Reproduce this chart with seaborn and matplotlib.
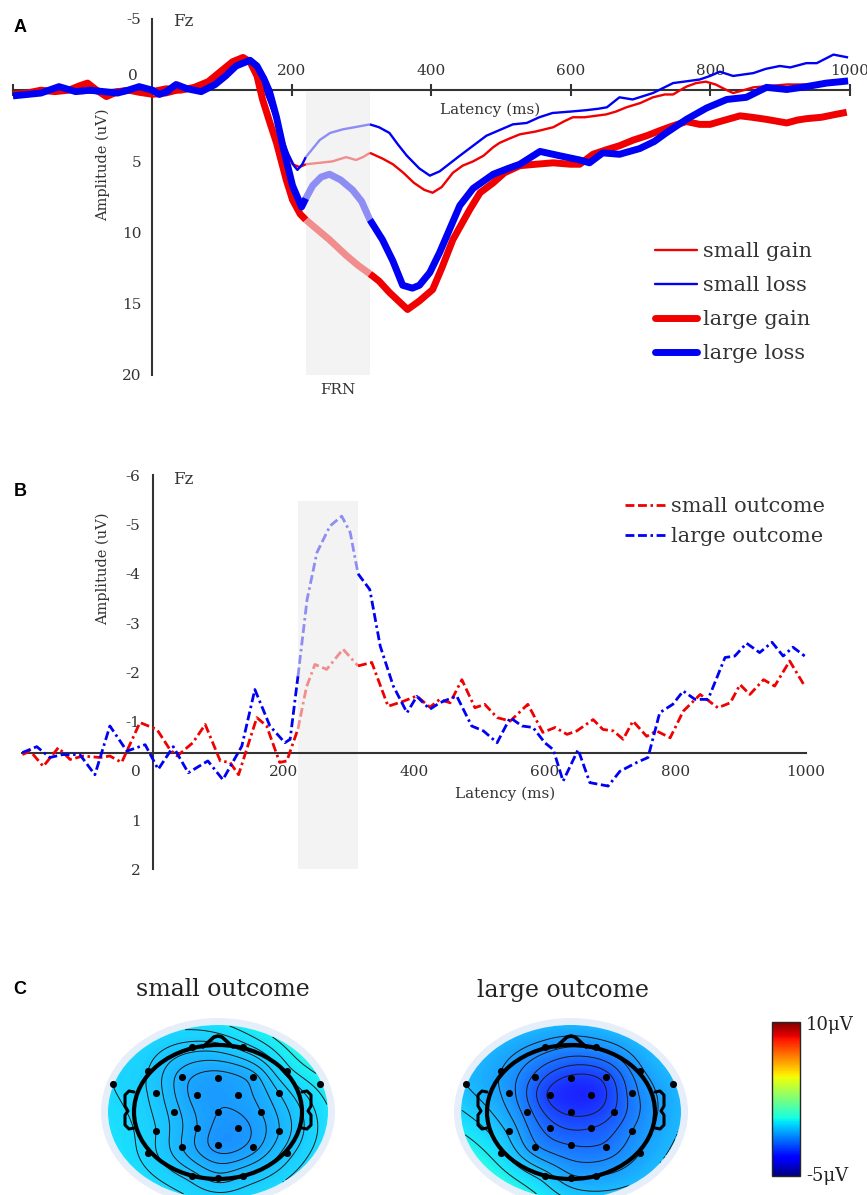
import numpy as np
import matplotlib
matplotlib.use("Agg")
import matplotlib.pyplot as plt
import seaborn as sns
from matplotlib.lines import Line2D
from matplotlib.patches import Ellipse, Rectangle
from matplotlib.colors import Normalize
from matplotlib.cm import ScalarMappable

# ---------------- data: panel A (Fz ERPs, uV; negative up) ----------------
t_small_gain = [-200,-180,-160,-140,-120,-100,-80,-60,-40,-20,0,20,40,60,80,95,110,125,135,145,
                155,163,175,187,201,211,220,240,258,278,292,302,312,330,345,360,375,390,402,415,
                431,445,460,475,489,498,512,527,550,575,590,603,620,651,665,680,700,718,735,747,
                757,766,780,794,808,820,833,848,862,886,910,940,970,996]
v_small_gain = [0.2,0.3,0.1,0.2,0.0,0.2,0.1,0.2,0.1,0.3,0.45,0.35,0.1,0.0,-0.4,-1.0,-1.6,-2.0,-2.1,-1.6,
                -0.7,0.2,1.8,3.7,5.2,5.4,5.2,5.1,5.0,4.7,4.9,4.7,4.4,4.8,5.2,5.8,6.5,7.0,7.2,6.8,
                5.8,5.3,5.0,4.6,4.0,3.7,3.4,3.1,2.9,2.6,2.2,1.9,1.9,1.7,1.5,1.2,0.9,0.5,0.3,0.3,
                0.0,-0.25,-0.5,-0.6,-0.4,-0.1,0.2,0.0,-0.2,-0.3,-0.4,-0.4,-0.5,-0.6]

t_small_loss = [-200,-180,-160,-140,-120,-100,-80,-60,-40,-20,0,20,40,60,80,100,120,135,145,155,
                165,175,185,195,203,208,215,220,240,255,273,290,312,325,340,352,365,383,398,412,
                441,460,479,498,517,537,555,574,600,623,640,652,670,689,718,747,770,785,800,814,
                833,862,880,900,915,938,953,977,998]
v_small_loss = [0.3,0.2,0.1,-0.2,0.0,0.1,0.2,0.0,-0.1,-0.25,0.2,0.3,-0.2,-0.1,-0.6,-1.3,-1.9,-2.0,-1.6,-0.7,
                0.5,1.8,3.2,4.5,5.3,5.6,5.2,4.7,3.5,3.0,2.75,2.6,2.4,2.6,3.0,3.8,4.6,5.5,6.0,5.7,
                4.6,3.9,3.2,2.8,2.4,2.3,1.9,1.6,1.5,1.4,1.3,1.2,0.5,0.65,0.2,-0.5,-0.65,-0.75,-1.0,-1.3,
                -1.0,-1.2,-1.5,-1.7,-1.6,-1.9,-1.9,-2.5,-2.3]

t_large_gain = [-200,-180,-160,-140,-120,-105,-93,-80,-66,-50,-30,-10,0,20,40,60,80,100,115,130,
                140,150,158,168,178,192,201,212,220,237,254,278,295,312,325,340,353,366,383,402,
                415,431,455,470,489,505,527,550,575,600,613,632,650,670,690,709,730,747,766,785,
                800,814,843,860,881,910,925,938,960,980,996]
v_large_gain = [0.3,0.2,0.0,0.1,0.0,-0.3,-0.5,0.0,0.45,0.1,0.0,0.1,0.1,-0.1,0.0,-0.2,-0.6,-1.4,-2.0,-2.3,
                -2.0,-1.0,0.65,2.2,3.7,6.3,7.7,8.7,9.1,9.8,10.5,11.6,12.3,12.9,13.4,14.2,14.8,15.4,14.8,14.0,
                12.5,10.5,8.4,7.2,6.5,5.8,5.3,5.2,5.1,5.2,5.2,4.5,4.2,3.9,3.5,3.2,2.8,2.5,2.2,2.4,
                2.4,2.2,1.8,1.9,2.05,2.3,2.1,2.0,1.9,1.7,1.55]

t_large_loss = [-200,-180,-160,-134,-110,-90,-70,-50,-35,-19,0,10,20,34,50,70,90,105,120,140,
                150,160,168,178,187,195,201,214,220,230,242,254,270,287,300,312,330,345,359,373,
                383,398,412,441,460,489,510,527,556,584,613,627,646,670,699,720,737,766,795,824,
                852,881,910,938,967,998]
v_large_loss = [0.4,0.3,0.2,-0.25,0.1,0.0,0.1,0.2,0.0,-0.25,0.0,0.3,0.1,-0.4,-0.1,0.1,-0.4,-1.0,-1.7,-2.1,
                -1.7,-0.8,0.1,1.9,3.9,5.5,6.7,8.2,7.6,6.7,6.1,5.9,6.3,7.0,7.8,9.1,10.5,12.0,13.7,13.9,
                13.7,12.8,11.4,8.1,6.9,5.9,5.5,5.2,4.3,4.6,4.9,5.1,4.4,4.5,4.1,3.6,3.0,2.05,1.25,0.65,
                0.5,-0.2,-0.05,-0.25,-0.5,-0.65]

# ---------------- data: panel B (difference waves) ----------------
t_small_out = [-200,-188,-168,-145,-127,-107,-81,-66,-48,-20,6,26,37,61,80,103,118,131,159,174,
               194,205,222,235,248,266,291,314,335,360,383,404,424,439,455,473,493,508,527,547,
               574,597,616,634,649,674,689,705,720,735,756,771,792,812,838,865,884,899,914,935,
               952,975,998]
v_small_out = [-0.33,-0.40,-0.09,-0.47,-0.23,-0.30,-0.27,-0.30,-0.17,-0.98,-0.84,-0.43,-0.30,-0.57,-0.94,-0.20,-0.17,0.08,-1.08,-0.91,
               -0.17,-0.20,-0.85,-1.7,-2.16,-2.06,-2.47,-2.13,-2.20,-1.31,-1.41,-1.52,-1.29,-1.45,-1.38,-1.85,-1.28,-1.35,-1.08,-1.01,
               -1.35,-0.78,-0.88,-0.74,-0.81,-1.04,-0.84,-0.81,-0.64,-1.01,-0.70,-0.81,-0.67,-1.21,-1.55,-1.28,-1.38,-1.75,-1.55,-1.85,
               -1.72,-2.23,-1.72]

t_large_out = [-200,-178,-158,-138,-112,-89,-66,-40,-12,8,31,54,84,107,136,156,179,202,210,222,
               236,251,271,289,302,314,332,348,368,389,404,424,439,465,488,506,527,547,565,582,
               600,613,628,651,669,697,715,741,758,776,796,812,830,850,876,891,909,929,948,965,
               980,998]
v_large_out = [-0.37,-0.49,-0.27,-0.33,-0.33,0.08,-0.91,-0.40,-0.53,-0.03,-0.49,0.04,-0.20,0.18,-0.50,-1.65,-0.91,-0.57,-0.64,-1.92,
               -3.48,-4.43,-4.97,-5.17,-4.84,-4.0,-3.68,-2.53,-1.72,-1.18,-1.51,-1.25,-1.38,-1.52,-0.91,-0.81,-0.57,-1.08,-0.91,-0.88,
               -0.57,-0.43,0.21,-0.43,0.24,0.31,0.01,-0.17,-0.27,-1.18,-1.35,-1.62,-1.45,-1.45,-2.30,-2.33,-2.59,-2.40,-2.61,-2.33,
               -2.51,-2.33]

# ---------------- data: panel C (electrode amplitudes, uV) ----------------
topo_small = [0.0,0.3,-0.2,0.1,-0.3,-0.1,-0.7,-0.9,-0.7,-0.3,-0.9,-0.9,-0.4,-0.5,-1.0,-0.8,
              -0.2,-0.8,-1.1,-0.6,-0.6,-1.1,-0.9,-0.1,-0.3,-0.3,-0.5,-0.4]
topo_large = [-0.5,-0.6,-0.9,-1.0,-1.1,-1.2,-1.8,-2.6,-2.3,-1.1,-2.6,-2.9,-1.5,-1.5,-2.6,-2.1,
              -0.6,-1.9,-2.1,-1.3,-1.2,-1.7,-1.6,0.0,-0.9,-0.3,-0.8,-0.9]

A_labels = ["small gain", "small loss", "large gain", "large loss"]
B_labels = ["small outcome", "large outcome"]
A_xticks = [-200, 200, 400, 600, 800, 1000]
A_xticklabels = ["", "200", "400", "600", "800", "1000"]
A_yticks = [-5, 5, 10, 15, 20]
B_yticks = [-6, -5, -4, -3, -2, -1, 0, 1, 2]
small_levels = [-1.0, -0.8, -0.6, -0.4, -0.2, 0.0, 0.2, 0.4]
large_levels = [-2.5, -2.1, -1.7, -1.3, -0.9, -0.5, -0.1, 0.3]

# ---------------- layout (style) ----------------
# electrode layout: pixel offsets from the head centre (x right, y up)
ELEC = np.array([(-105, 28), (102, 28), (-70, 41), (69, 41), (-26, 65), (25, 65),
                 (-36, 35), (0, 34), (35, 35), (-62, 19), (-21, 17), (20, 17), (61, 19),
                 (-44, 0), (0, 0), (43, 0), (-62, -19), (-21, -16), (20, -16), (61, -19),
                 (-36, -35), (0, -33), (35, -35), (-70, -41), (69, -41), (-26, -64), (0, -66), (25, -64)],
                dtype=float)

RED = "#f00000"
BLUE = "#0000f5"
TXT = "#333333"
W, H = 867, 1195

sns.set_style("white")
plt.rcParams["font.family"] = ["DejaVu Serif"]
plt.rcParams["axes.unicode_minus"] = False

fig = plt.figure(figsize=(W / 100, H / 100), dpi=100)


def fx(px):
    return px / W


def fy(py):
    return 1 - py / H


def add_ax(x0, y0, x1, y1):
    return fig.add_axes([fx(x0), fy(y1), (x1 - x0) / W, (y1 - y0) / H])


def draw_segments(ax, t, v, w0, w1, color, **kw):
    t = np.asarray(t, float)
    v = np.asarray(v, float)
    masks = [(t <= w0, 1.0), ((t >= w0) & (t <= w1), 0.42), (t >= w1, 1.0)]
    for m, a in masks:
        sns.lineplot(x=t[m], y=v[m], ax=ax, color=color, alpha=a, estimator=None,
                     sort=False, solid_capstyle="butt", dash_capstyle="butt", zorder=3, **kw)


def style_axis(ax):
    for s in ax.spines.values():
        s.set_color(TXT)
        s.set_linewidth(1.5)
    ax.tick_params(colors=TXT, labelsize=11, width=1.5)


# ================= Panel A =================
axA = add_ax(13, 19, 849.5, 375)
axA.set_xlim(-200, 1000)
axA.set_ylim(20, -5)
axA.add_patch(Rectangle((220, 0.15), 92, 19.85, color="#f3f3f3", zorder=1, lw=0))
draw_segments(axA, t_small_gain, v_small_gain, 220, 312, RED, linewidth=1.7)
draw_segments(axA, t_small_loss, v_small_loss, 220, 312, BLUE, linewidth=1.7)
draw_segments(axA, t_large_gain, v_large_gain, 220, 312, RED, linewidth=5.0)
draw_segments(axA, t_large_loss, v_large_loss, 220, 312, BLUE, linewidth=5.0)
axA.spines["left"].set_position(("data", 0))
axA.spines["top"].set_position(("data", 0))
axA.spines["right"].set_visible(False)
axA.spines["bottom"].set_visible(False)
axA.xaxis.set_ticks_position("top")
axA.set_xticks(A_xticks)
axA.set_xticklabels(A_xticklabels)
axA.set_yticks(A_yticks)
axA.set_yticklabels([str(v) for v in A_yticks])
style_axis(axA)
axA.tick_params(axis="y", direction="inout", length=10, pad=3)
axA.tick_params(axis="x", direction="inout", length=9, pad=4)
axA.set_xlabel("")
axA.set_ylabel("")
axA.grid(False)
axA.patch.set_alpha(0)

handles = [Line2D([], [], color=RED, lw=1.7), Line2D([], [], color=BLUE, lw=1.7),
           Line2D([], [], color=RED, lw=5.0), Line2D([], [], color=BLUE, lw=5.0)]
fig.legend(handles, A_labels, loc="upper left", bbox_to_anchor=(fx(655), fy(242)),
           bbox_transform=fig.transFigure, frameon=False, fontsize=15, borderpad=0,
           borderaxespad=0, handlelength=2.0, handletextpad=0.3, labelspacing=0.72,
           labelcolor=TXT)

# ================= Panel B =================
axB = add_ax(22.4, 475.3, 806, 869.3)
axB.set_xlim(-200, 1000)
axB.set_ylim(2, -6)
axB.add_patch(Rectangle((222, -5.47), 92, 7.47, color="#f3f3f3", zorder=1, lw=0))
dash = (0, (3.2, 1.3, 3.2, 1.3, 0.9, 1.3))
draw_segments(axB, t_small_out, v_small_out, 222, 314, RED, linewidth=2.0, linestyle=dash)
draw_segments(axB, t_large_out, v_large_out, 222, 314, BLUE, linewidth=2.0, linestyle=dash)
axB.spines["left"].set_position(("data", 0))
axB.spines["bottom"].set_position(("data", -0.37))
axB.spines["right"].set_visible(False)
axB.spines["top"].set_visible(False)
axB.set_xticks(A_xticks)
axB.set_xticklabels(A_xticklabels)
axB.set_yticks(B_yticks)
axB.set_yticklabels([str(v) for v in B_yticks])
style_axis(axB)
axB.tick_params(axis="y", direction="inout", length=10, pad=4)
axB.tick_params(axis="x", direction="inout", length=10, pad=4)
axB.set_xlabel("")
axB.set_ylabel("")
axB.grid(False)
axB.patch.set_alpha(0)

handlesB = [Line2D([], [], color=RED, lw=2.0, linestyle=dash),
            Line2D([], [], color=BLUE, lw=2.0, linestyle=dash)]
fig.legend(handlesB, B_labels, loc="upper left", bbox_to_anchor=(fx(625), fy(497)),
           bbox_transform=fig.transFigure, frameon=False, fontsize=15, borderpad=0,
           borderaxespad=0, handlelength=1.95, handletextpad=0.25, labelspacing=0.52,
           labelcolor=TXT)


# ================= Panel C =================
def tps(u, w, vals, gu, gw):
    P = np.column_stack([u, w])
    n = len(P)
    d = np.sqrt(((P[:, None, :] - P[None, :, :]) ** 2).sum(-1))
    with np.errstate(divide="ignore", invalid="ignore"):
        K = np.where(d > 0, d ** 2 * np.log(d), 0.0)
    A = np.zeros((n + 3, n + 3))
    A[:n, :n] = K + 1e-3 * np.eye(n)
    A[:n, n] = 1
    A[:n, n + 1:] = P
    A[n, :n] = 1
    A[n + 1:, :n] = P.T
    b = np.r_[np.asarray(vals, float), 0, 0, 0]
    c = np.linalg.solve(A, b)
    G = np.column_stack([gu.ravel(), gw.ravel()])
    dg = np.sqrt(((G[:, None, :] - P[None, :, :]) ** 2).sum(-1))
    with np.errstate(divide="ignore", invalid="ignore"):
        Kg = np.where(dg > 0, dg ** 2 * np.log(dg), 0.0)
    z = Kg @ c[:n] + c[n] + G @ c[n + 1:]
    return z.reshape(gu.shape)


def topo(cx, vals, levels):
    ax = add_ax(cx - 123, 1015, cx + 127, 1195)
    ax.set_xlim(-123, 127)
    ax.set_ylim(-83, 97)
    ax.axis("off")
    gx, gy = np.meshgrid(np.linspace(-125, 125, 251), np.linspace(-92, 100, 193))
    z = tps(ELEC[:, 0] / 84, ELEC[:, 1] / 67, vals, gx / 84, gy / 67)
    inside = (gx / 110) ** 2 + (gy / 87) ** 2 <= 1.0
    zm = np.ma.masked_where(~inside, z)
    ax.add_patch(Ellipse((0, 0), 234, 188, color="#e6eef9", lw=0, zorder=0))
    ax.add_patch(Ellipse((0, 0), 220, 174, color="white", lw=0, zorder=0.5))
    clip = Ellipse((0, 0), 220, 174, transform=ax.transData, fill=False, lw=0)
    im = ax.imshow(z, extent=(-125, 125, -92, 100), origin="lower", cmap="jet",
                   vmin=-5, vmax=10, interpolation="bilinear", zorder=1, aspect="auto",
                   alpha=0.9)
    im.set_clip_path(clip)
    cs = ax.contour(gx, gy, zm, levels=levels, colors="#1a1a1a", linewidths=0.7,
                    linestyles="solid", zorder=2)
    cs.set_clip_path(clip)
    ax.add_patch(Ellipse((0, 0), 168, 134, fill=False, ec="black", lw=3.0, zorder=4))
    ax.plot([-15, -4, 0, 4, 15], [65, 75, 76, 75, 65], color="black", lw=2.6, zorder=4,
            solid_joinstyle="round")
    for s in (-1, 1):
        ex = [-84, -89, -93, -93, -90, -93, -93, -89, -84]
        ey = [20, 21, 17, 6, 1, -3, -13, -17, -16]
        ax.plot([s * e for e in ex], ey, color="black", lw=2.2, zorder=4, solid_joinstyle="round")
    ax.scatter(ELEC[:, 0], ELEC[:, 1], s=26, color="black", zorder=5, linewidths=0)
    return ax


topo(218, topo_small, small_levels)
topo(571, topo_large, large_levels)

cax = add_ax(772, 1022, 800, 1176)
cb = fig.colorbar(ScalarMappable(norm=Normalize(-5, 10), cmap="jet"), cax=cax)
cb.set_ticks([-3.8, 0.6, 5.1])
cax.tick_params(direction="in", length=3, width=0.8, left=True, right=True,
                labelright=False, labelleft=False, colors="#222222")
cb.outline.set_linewidth(1.0)

# ================= texts =================
def ftxt(x, y, s, **kw):
    kw.setdefault("color", TXT)
    kw.setdefault("ha", "center")
    kw.setdefault("va", "center")
    fig.text(fx(x), fy(y), s, **kw)


bold = dict(family=["Liberation Sans", "DejaVu Sans"], fontweight="bold", fontsize=13, color="black")
ftxt(20, 27, "A", **bold)
ftxt(20, 492, "B", **bold)
ftxt(20, 990, "C", **bold)

ftxt(183, 21, "Fz", fontsize=12)
ftxt(133, 76, "0", fontsize=11)
ftxt(490, 110, "Latency (ms)", fontsize=11)
ftxt(103, 165, "Amplitude (uV)", fontsize=10.5, rotation=90)
ftxt(338, 390, "FRN", fontsize=11)

ftxt(183, 480, "Fz", fontsize=12)
ftxt(505, 794, "Latency (ms)", fontsize=11)
ftxt(103, 569, "Amplitude (uV)", fontsize=10.5, rotation=90)

ftxt(223, 990, "small outcome", fontsize=17, color="#222222")
ftxt(563, 990, "large outcome", fontsize=17, color="#222222")
ftxt(806, 1025, "10\u03bcV", fontsize=13, ha="left", color="#222222")
ftxt(806, 1176, "-5\u03bcV", fontsize=13, ha="left", color="#222222")

fig.savefig("out.png", dpi=100)
